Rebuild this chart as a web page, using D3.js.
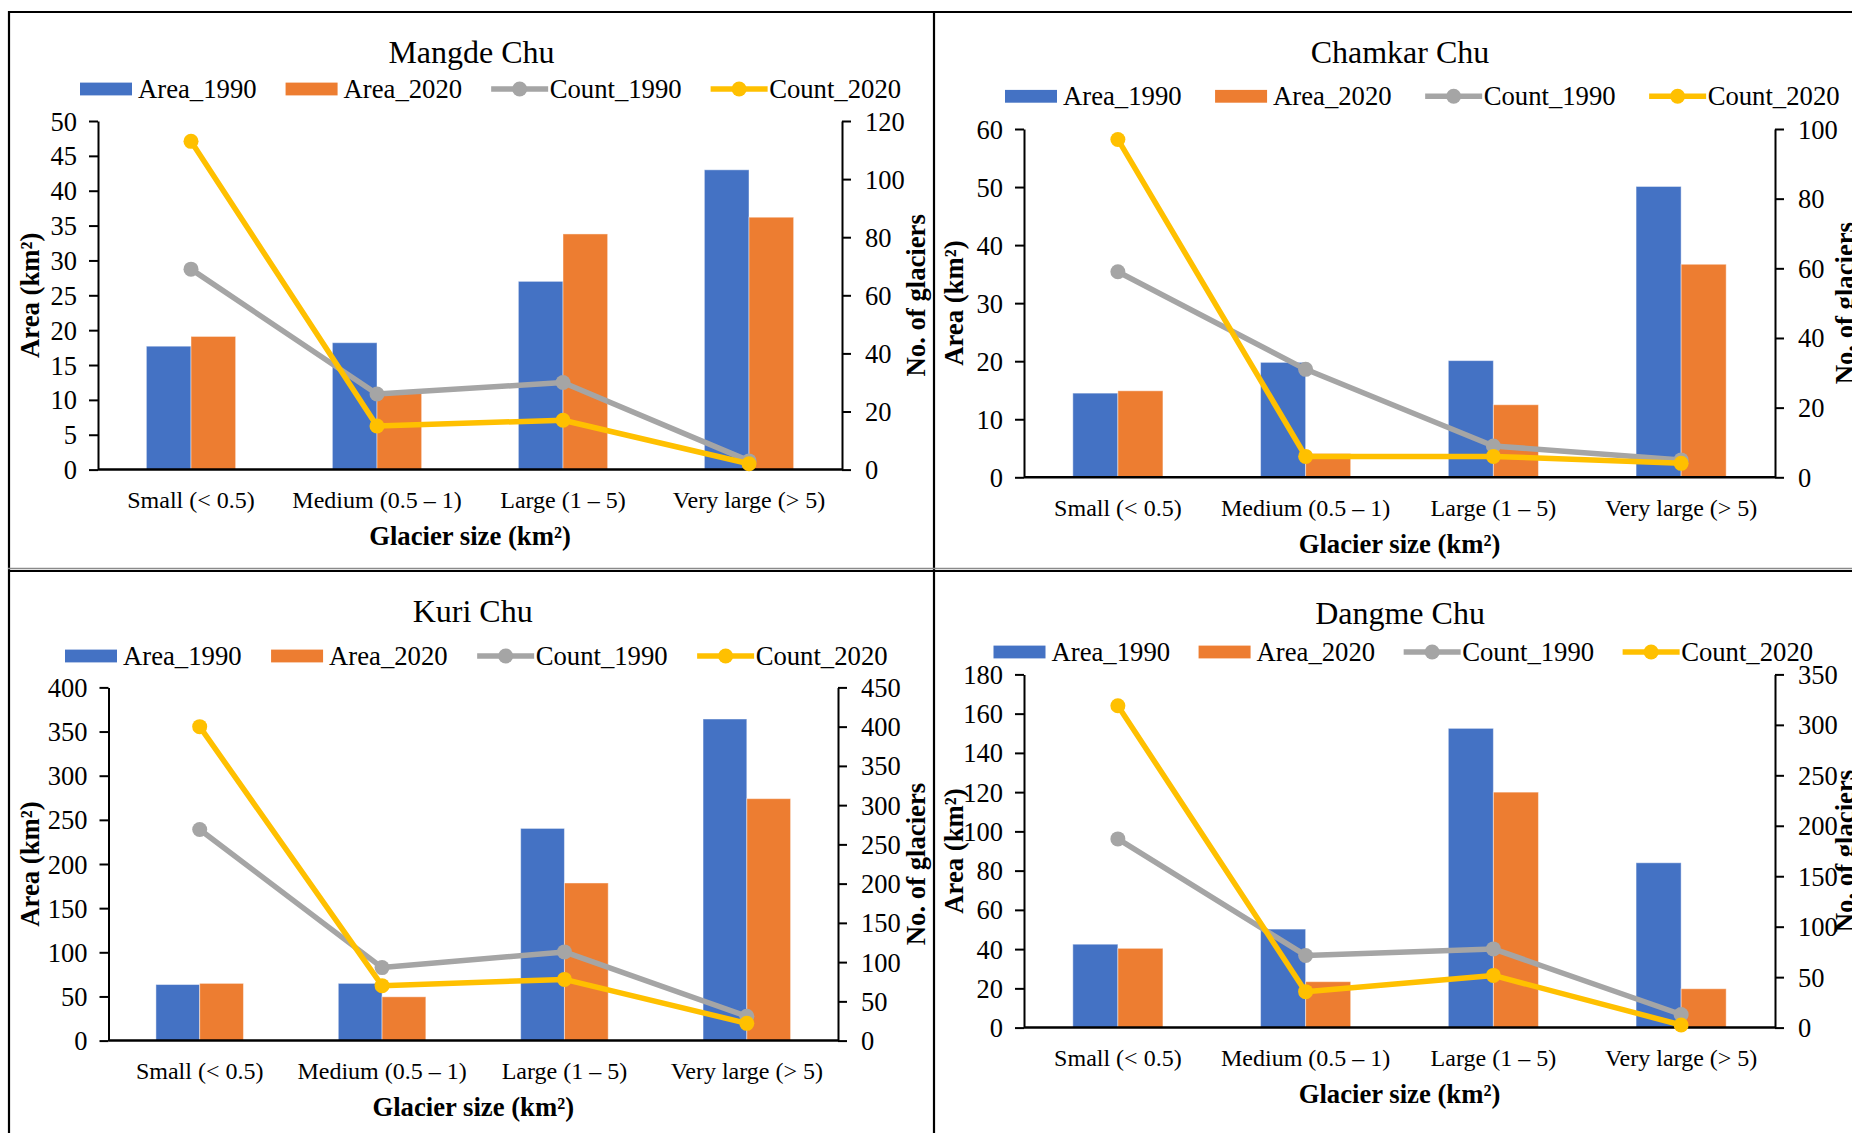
<!DOCTYPE html>
<html>
<head>
<meta charset="utf-8">
<script src="https://cdn.jsdelivr.net/npm/d3@7"></script>
<style>
  html, body { margin: 0; padding: 0; background: #fff; }
  svg { display: block; font-family: "Liberation Serif", "Times New Roman", serif; }
</style>
</head>
<body>
<svg id="chart" width="1852" height="1133"></svg>
<script>
// ---------- DATA ----------
const categories = ["Small (< 0.5)", "Medium (0.5 \u2013 1)", "Large (1 \u2013 5)", "Very large (> 5)"];
const seriesNames = ["Area_1990", "Area_2020", "Count_1990", "Count_2020"];
const basinNames = ["Mangde Chu", "Chamkar Chu", "Kuri Chu", "Dangme Chu"];

const mangdeArea1990 = [17.7, 18.2, 27.0, 43.0];
const mangdeArea2020 = [19.1, 11.2, 33.8, 36.2];
const mangdeCount1990 = [69, 26, 30, 3];
const mangdeCount2020 = [113, 15, 17, 2];
const mangdeAreaTicks = [0, 5, 10, 15, 20, 25, 30, 35, 40, 45, 50];
const mangdeCountTicks = [0, 20, 40, 60, 80, 100, 120];

const chamkarArea1990 = [14.5, 19.8, 20.1, 50.1];
const chamkarArea2020 = [14.9, 4.1, 12.5, 36.7];
const chamkarCount1990 = [59, 31, 9, 5];
const chamkarCount2020 = [97, 6, 6, 4];
const chamkarAreaTicks = [0, 10, 20, 30, 40, 50, 60];
const chamkarCountTicks = [0, 20, 40, 60, 80, 100];

const kuriArea1990 = [63.5, 64.8, 240.3, 364.2];
const kuriArea2020 = [64.8, 49.6, 178.5, 274];
const kuriCount1990 = [269, 93, 113, 31];
const kuriCount2020 = [400, 70, 78, 22];
const kuriAreaTicks = [0, 50, 100, 150, 200, 250, 300, 350, 400];
const kuriCountTicks = [0, 50, 100, 150, 200, 250, 300, 350, 400, 450];

const dangmeArea1990 = [42.5, 50.2, 152.5, 84];
const dangmeArea2020 = [40.4, 23.4, 120, 19.8];
const dangmeCount1990 = [187, 71.5, 78, 13];
const dangmeCount2020 = [319, 35.6, 51.7, 2.6];
const dangmeAreaTicks = [0, 20, 40, 60, 80, 100, 120, 140, 160, 180];
const dangmeCountTicks = [0, 50, 100, 150, 200, 250, 300, 350];

// ---------- STYLE / LAYOUT ----------
const colors = { Area_1990: "#4472C4", Area_2020: "#ED7D31", Count_1990: "#A5A5A5", Count_2020: "#FFC000" };

const panels = [
  { name: basinNames[0], a90: mangdeArea1990, a20: mangdeArea2020, c90: mangdeCount1990, c20: mangdeCount2020,
    aTicks: mangdeAreaTicks, cTicks: mangdeCountTicks,
    l: 98, r: 842, t: 121, b: 469.6, titleX: 471.5, titleY: 51.5, legX: 80, legY: 89, legGap: 29,
    leftTitleX: 38.5, rightTitleX: 925 },
  { name: basinNames[1], a90: chamkarArea1990, a20: chamkarArea2020, c90: chamkarCount1990, c20: chamkarCount2020,
    aTicks: chamkarAreaTicks, cTicks: chamkarCountTicks,
    l: 1024, r: 1775, t: 129, b: 477.3, titleX: 1400, titleY: 51.5, legX: 1005, legY: 96.3, legGap: 33.5,
    leftTitleX: 962.5, rightTitleX: 1854 },
  { name: basinNames[2], a90: kuriArea1990, a20: kuriArea2020, c90: kuriCount1990, c20: kuriCount2020,
    aTicks: kuriAreaTicks, cTicks: kuriCountTicks,
    l: 108.5, r: 838, t: 687.4, b: 1040.6, titleX: 472.7, titleY: 611, legX: 65, legY: 656, legGap: 29.5,
    leftTitleX: 38.5, rightTitleX: 925 },
  { name: basinNames[3], a90: dangmeArea1990, a20: dangmeArea2020, c90: dangmeCount1990, c20: dangmeCount2020,
    aTicks: dangmeAreaTicks, cTicks: dangmeCountTicks,
    l: 1024, r: 1775, t: 674.4, b: 1027.6, titleX: 1400, titleY: 613, legX: 993.5, legY: 652, legGap: 28.5,
    leftTitleX: 962.5, rightTitleX: 1853.5 }
];

const svg = d3.select("#chart");

// ---------- PANEL FRAMES ----------
const frame = svg.append("g");
frame.append("line").attr("x1", 8).attr("x2", 1852).attr("y1", 12).attr("y2", 12)
  .attr("stroke", "#000").attr("stroke-width", 2.2);
frame.append("line").attr("x1", 9).attr("x2", 9).attr("y1", 11).attr("y2", 1133)
  .attr("stroke", "#000").attr("stroke-width", 2.2);
frame.append("line").attr("x1", 934).attr("x2", 934).attr("y1", 11).attr("y2", 1133)
  .attr("stroke", "#000").attr("stroke-width", 2.2);
frame.append("line").attr("x1", 8).attr("x2", 1852).attr("y1", 568.5).attr("y2", 568.5)
  .attr("stroke", "#8a8a8a").attr("stroke-width", 1.5);
frame.append("line").attr("x1", 8).attr("x2", 1852).attr("y1", 571).attr("y2", 571)
  .attr("stroke", "#000").attr("stroke-width", 2.2);

// ---------- DRAW PANELS ----------
panels.forEach(p => {
  const g = svg.append("g");

  const x0 = d3.scaleBand().domain(categories).range([p.l, p.r]).paddingInner(0.52).paddingOuter(0.26);
  const x1 = d3.scaleBand().domain(["Area_1990", "Area_2020"]).range([0, x0.bandwidth()]);
  const yL = d3.scaleLinear().domain([0, d3.max(p.aTicks)]).range([p.b, p.t]);
  const yR = d3.scaleLinear().domain([0, d3.max(p.cTicks)]).range([p.b, p.t]);

  // Title
  g.append("text").attr("x", p.titleX).attr("y", p.titleY)
    .attr("text-anchor", "middle").attr("dominant-baseline", "central")
    .attr("font-size", 32).attr("fill", "#000").text(p.name);

  // Bars
  const barData = [];
  categories.forEach((c, i) => {
    barData.push({ cat: c, key: "Area_1990", v: p.a90[i] });
    barData.push({ cat: c, key: "Area_2020", v: p.a20[i] });
  });
  g.append("g").selectAll("rect").data(barData).join("rect")
    .attr("x", d => x0(d.cat) + x1(d.key))
    .attr("width", x1.bandwidth())
    .attr("y", d => yL(d.v))
    .attr("height", d => yL(0) - yL(d.v))
    .attr("fill", d => colors[d.key])
    .attr("stroke", "#ffffff").attr("stroke-opacity", 0.45).attr("stroke-width", 1);

  // Axes
  const axL = g.append("g").attr("transform", `translate(${p.l},0)`)
    .call(d3.axisLeft(yL).tickValues(p.aTicks).tickSize(9).tickSizeOuter(0).tickPadding(12).tickFormat(d3.format("d")));
  const axR = g.append("g").attr("transform", `translate(${p.r},0)`)
    .call(d3.axisRight(yR).tickValues(p.cTicks).tickSize(9).tickSizeOuter(0).tickPadding(14).tickFormat(d3.format("d")));
  [axL, axR].forEach(ax => {
    ax.select(".domain").attr("stroke", "#000").attr("stroke-width", 2);
    ax.selectAll(".tick line").attr("stroke", "#000").attr("stroke-width", 2);
    ax.selectAll(".tick text").attr("font-size", 26.5).attr("fill", "#000")
      .attr("font-family", "Liberation Serif, Times New Roman, serif")
      .attr("dy", null).attr("dominant-baseline", "central");
  });
  g.append("line").attr("x1", p.l).attr("x2", p.r).attr("y1", p.b).attr("y2", p.b)
    .attr("stroke", "#000").attr("stroke-width", 2.5);

  // Category labels
  g.append("g").selectAll("text").data(categories).join("text")
    .attr("x", d => x0(d) + x0.bandwidth() / 2)
    .attr("y", p.b + 30.5)
    .attr("text-anchor", "middle").attr("dominant-baseline", "central")
    .attr("font-size", 24).attr("fill", "#000").text(d => d);

  // Axis titles
  g.append("text").attr("x", (p.l + p.r) / 2).attr("y", p.b + 66.5)
    .attr("text-anchor", "middle").attr("dominant-baseline", "central")
    .attr("font-size", 26.7).attr("font-weight", "bold").attr("fill", "#000")
    .text("Glacier size (km\u00B2)");
  g.append("text")
    .attr("transform", `translate(${p.leftTitleX},${(p.t + p.b) / 2}) rotate(-90)`)
    .attr("text-anchor", "middle")
    .attr("font-size", 26.7).attr("font-weight", "bold").attr("fill", "#000")
    .text("Area (km\u00B2)");
  g.append("text")
    .attr("transform", `translate(${p.rightTitleX},${(p.t + p.b) / 2}) rotate(-90)`)
    .attr("text-anchor", "middle")
    .attr("font-size", 26.7).attr("font-weight", "bold").attr("fill", "#000")
    .text("No. of glaciers");

  // Lines
  const line = d3.line().x(d => d.x).y(d => d.y);
  [["Count_1990", p.c90], ["Count_2020", p.c20]].forEach(([key, vals]) => {
    const pts = categories.map((c, i) => ({ x: x0(c) + x0.bandwidth() / 2, y: yR(vals[i]) }));
    g.append("path").datum(pts).attr("d", line)
      .attr("fill", "none").attr("stroke", colors[key]).attr("stroke-width", 5.5)
      .attr("stroke-linejoin", "round");
    g.append("g").selectAll("circle").data(pts).join("circle")
      .attr("cx", d => d.x).attr("cy", d => d.y).attr("r", 7.5)
      .attr("fill", colors[key]);
  });

  // Legend
  const leg = g.append("g");
  let cursor = p.legX;
  seriesNames.forEach(key => {
    const isBar = key.startsWith("Area");
    if (isBar) {
      leg.append("rect").attr("x", cursor).attr("y", p.legY - 6.4).attr("width", 52).attr("height", 12.8)
        .attr("fill", colors[key]);
    } else {
      leg.append("line").attr("x1", cursor).attr("x2", cursor + 57).attr("y1", p.legY).attr("y2", p.legY)
        .attr("stroke", colors[key]).attr("stroke-width", 5.5);
      leg.append("circle").attr("cx", cursor + 28.5).attr("cy", p.legY).attr("r", 7.5).attr("fill", colors[key]);
    }
    const tx = cursor + (isBar ? 58 : 58.5);
    const t = leg.append("text").attr("x", tx).attr("y", p.legY)
      .attr("dominant-baseline", "central").attr("font-size", 26.7).attr("fill", "#000").text(key);
    cursor = tx + t.node().getComputedTextLength() + p.legGap;
  });
});
</script>
</body>
</html>
